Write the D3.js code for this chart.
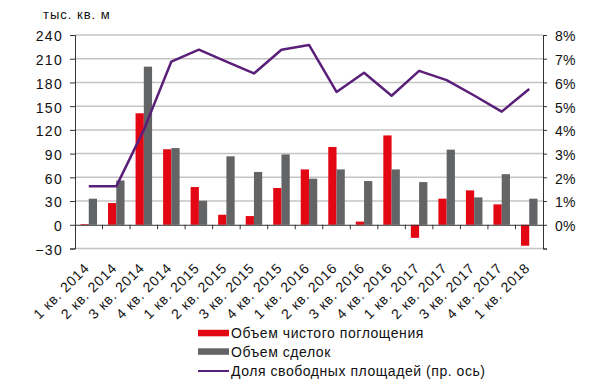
<!DOCTYPE html>
<html><head><meta charset="utf-8">
<script src="https://cdn.jsdelivr.net/npm/d3@7"></script>
<style>
body{margin:0;background:#fff;}
svg{display:block;font-family:"Liberation Sans",Arial,sans-serif;}
</style></head>
<body><svg id="c" width="600" height="381"></svg>
<script>
const categories = ["1 кв. 2014","2 кв. 2014","3 кв. 2014","4 кв. 2014","1 кв. 2015","2 кв. 2015","3 кв. 2015","4 кв. 2015","1 кв. 2016","2 кв. 2016","3 кв. 2016","4 кв. 2016","1 кв. 2017","2 кв. 2017","3 кв. 2017","4 кв. 2017","1 кв. 2018"];
const netAbsorption = [0.6, 27.5, 141, 95.5, 47.7, 12.7, 11, 46.5, 70, 98.4, 4, 113, -16.5, 33, 43.5, 25.8, -26.5];
const dealVolume = [33, 56, 200, 97, 30.4, 86.6, 66.8, 89, 58.3, 70, 55.3, 70, 54, 95, 34.6, 64, 33];
const vacancy = [0.0162, 0.0162, 0.040, 0.0688, 0.0738, 0.0688, 0.0638, 0.0738, 0.0758, 0.0560, 0.0641, 0.0544, 0.0649, 0.0610, 0.0545, 0.0477, 0.0572];
const leftTicks = [-30, 0, 30, 60, 90, 120, 150, 180, 210, 240];
const rightTicks = [-0.01, 0, 0.01, 0.02, 0.03, 0.04, 0.05, 0.06, 0.07, 0.08];
const seriesNames = ["Объем чистого поглощения", "Объем сделок", "Доля свободных площадей (пр. ось)"];
const unitLabel = "тыс. кв. м";

const RED = "#e30613", GRAY = "#636466", PURPLE = "#5a1f78", GRID = "#c4c4c4", AX = "#333";
const L = 75, R = 543, T = 35, B = 248.5;
const svg = d3.select("#c");

const x = d3.scaleBand().domain(categories).range([L, R]).paddingInner(0).paddingOuter(0);
const y = d3.scaleLinear().domain([-30, 240]).range([B, T]);
const y2 = d3.scaleLinear().domain([-0.01, 0.08]).range([B, T]);
const bw = x.bandwidth() * 0.3;

// gridlines
svg.append("g").selectAll("line").data(leftTicks.filter(d => d !== 0)).join("line")
  .attr("x1", L).attr("x2", R).attr("y1", d => y(d)).attr("y2", d => y(d))
  .attr("stroke", GRID).attr("stroke-width", 1.5);

// bars
svg.append("g").selectAll("rect").data(netAbsorption).join("rect")
  .attr("x", (d, i) => x(categories[i]) + x.bandwidth() / 2 - bw)
  .attr("width", bw)
  .attr("y", d => y(Math.max(0, d)))
  .attr("height", d => Math.max(0.8, Math.abs(y(d) - y(0))))
  .attr("fill", RED);
svg.append("g").selectAll("rect").data(dealVolume).join("rect")
  .attr("x", (d, i) => x(categories[i]) + x.bandwidth() / 2)
  .attr("width", bw)
  .attr("y", d => y(Math.max(0, d)))
  .attr("height", d => Math.abs(y(d) - y(0)))
  .attr("fill", GRAY);

// zero axis with category ticks
const xAxis = d3.axisBottom(x).tickSize(0).tickFormat("");
const gx = svg.append("g").attr("transform", `translate(0,${y(0)})`).call(xAxis);
gx.select(".domain").attr("stroke", AX).attr("stroke-width", 1);
svg.append("g").selectAll("line").data(categories.slice(1)).join("line")
  .attr("x1", d => x(d)).attr("x2", d => x(d))
  .attr("y1", y(0)).attr("y2", y(0) + 4.5).attr("stroke", AX);

// category labels
svg.append("g").selectAll("text").data(categories).join("text")
  .attr("transform", d => `translate(${x(d) + x.bandwidth() / 2 + 1.5},${269}) rotate(-45)`)
  .attr("text-anchor", "end")
  .attr("font-size", 14).attr("letter-spacing", 0.8).attr("fill", "#111")
  .text(d => d);

// left axis
const gl = svg.append("g").attr("transform", `translate(${L},0)`)
  .call(d3.axisLeft(y).tickValues(leftTicks).tickSize(5).tickPadding(7).tickFormat(d3.format("d")));
gl.select(".domain").attr("stroke", AX);
gl.selectAll(".tick line").attr("stroke", AX);
gl.selectAll(".tick text").attr("font-size", 14).attr("letter-spacing", 1.3).attr("fill", "#111")
  .attr("font-family", "Liberation Sans, Arial, sans-serif").attr("dy", "0.42em");

// right axis
const gr = svg.append("g").attr("transform", `translate(${R},0)`)
  .call(d3.axisRight(y2).tickValues(rightTicks).tickSize(4).tickPadding(8)
    .tickFormat(d => d < 0 ? "" : d3.format(".0%")(d)));
gr.select(".domain").attr("stroke", AX);
gr.selectAll(".tick line").attr("stroke", AX);
gr.selectAll(".tick text").attr("font-size", 14).attr("letter-spacing", 0.3).attr("fill", "#111")
  .attr("font-family", "Liberation Sans, Arial, sans-serif").attr("dy", "0.42em");

// vacancy line
svg.append("path").datum(vacancy)
  .attr("fill", "none").attr("stroke", PURPLE).attr("stroke-width", 2.5).attr("stroke-linejoin", "round")
  .attr("d", d3.line().x((d, i) => x(categories[i]) + x.bandwidth() / 2).y(d => y2(d)));

// unit label
svg.append("text").attr("x", 43).attr("y", 18.5).attr("font-size", 13).attr("letter-spacing", 1)
  .attr("fill", "#111").text(unitLabel);

// legend
const lg = svg.append("g");
const rows = [{c: RED, t: "rect", y: 333}, {c: GRAY, t: "rect", y: 351.5}, {c: PURPLE, t: "line", y: 371}];
rows.forEach((r, i) => {
  if (r.t === "rect") lg.append("rect").attr("x", 198).attr("y", r.y - 3.2).attr("width", 31).attr("height", 6.5).attr("fill", r.c);
  else lg.append("line").attr("x1", 198).attr("x2", 229).attr("y1", r.y).attr("y2", r.y).attr("stroke", r.c).attr("stroke-width", 2);
  lg.append("text").attr("x", 231).attr("y", r.y + 5.3).attr("font-size", 14).attr("letter-spacing", 0.55)
    .attr("fill", "#111").text(seriesNames[i]);
});
</script></body></html>
